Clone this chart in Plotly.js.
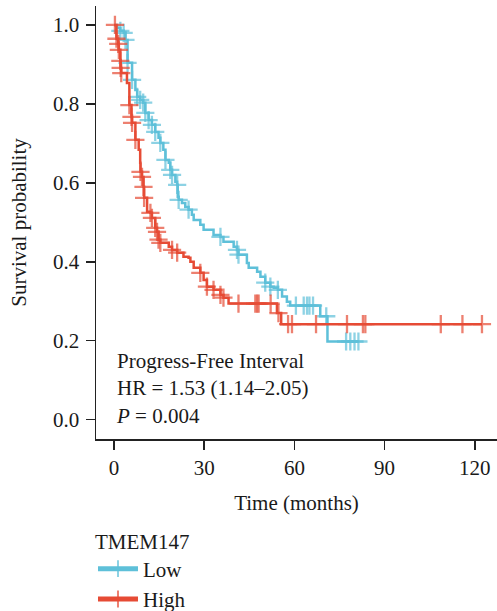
<!DOCTYPE html>
<html>
<head>
<meta charset="utf-8">
<script src="https://cdn.plot.ly/plotly-3.0.1.min.js"></script>
<style>
  html, body { margin: 0; padding: 0; background: #fff; }
  #chart { width: 497px; height: 611px; }
</style>
</head>
<body>
<div id="chart"></div>
<script>
// Group labels and legend
const legendTitle = "TMEM147";
const groupNames = ["Low", "High"];
const groupColors = ["#5EC0D9", "#E64B35"];

// Kaplan-Meier steps: time (months), survival probability, censored (1 = tick mark)
const lowTime = [0, 1.1, 2.1, 3.2, 3.8, 4.5, 6.0, 7.1, 7.7, 8.7, 9.7, 10.4, 11.5, 12.6, 13.7, 14.8, 15.4, 16.4, 17.1, 18.2,
  18.7, 19.3, 20.4, 21.0, 21.2, 21.5, 22.6, 23.7, 24.8, 25.9, 26.5, 28.7, 29.8, 33.1, 35.4, 36.4, 39.8, 40.9, 41.4, 44.2,
  44.8, 47.6, 48.7, 50.3, 52.0, 53.1, 54.5, 55.9, 57.5, 58.6, 60.5, 63.1, 64.2, 65.0, 66.2, 68.6, 70.6, 71.0, 77.2, 78.6,
  80.0, 81.3];
const lowSurv = [1.000, 0.992, 0.985, 0.980, 0.962, 0.904, 0.861, 0.835, 0.818, 0.810, 0.803, 0.777, 0.759, 0.747, 0.729, 0.714, 0.701, 0.684, 0.658, 0.651,
  0.633, 0.620, 0.603, 0.595, 0.565, 0.557, 0.549, 0.539, 0.532, 0.519, 0.506, 0.494, 0.481, 0.468, 0.463, 0.451, 0.438, 0.430, 0.418, 0.397,
  0.385, 0.375, 0.362, 0.347, 0.337, 0.334, 0.329, 0.312, 0.299, 0.289, 0.289, 0.289, 0.289, 0.289, 0.289, 0.262, 0.262, 0.198, 0.198, 0.198,
  0.198, 0.198];
const lowCensored = [0, 0, 1, 1, 1, 1, 1, 0, 1, 1, 1, 1, 1, 1, 1, 0, 1, 0, 1, 0,
  1, 1, 0, 1, 0, 1, 0, 0, 1, 0, 0, 0, 0, 0, 1, 0, 0, 1, 1, 0,
  0, 0, 0, 1, 1, 0, 1, 0, 0, 0, 1, 1, 1, 1, 1, 0, 1, 0, 1, 1,
  1, 1];

const highTime = [0, 0.3, 0.8, 1.4, 1.6, 2.1, 2.2, 2.4, 4.3, 5.1, 5.8, 6.0, 7.1, 8.2, 8.7, 8.8, 9.3, 9.8, 10.0, 11.0,
  12.1, 12.6, 13.7, 14.3, 14.8, 15.4, 18.2, 19.3, 21.0, 23.1, 24.8, 25.4, 26.5, 28.7, 29.8, 30.9, 33.1, 35.4, 36.4, 38.1,
  41.4, 47.0, 47.6, 48.1, 52.1, 54.2, 54.7, 55.6, 57.9, 59.2, 67.2, 77.5, 82.8, 83.6, 108.7, 115.9, 122.4];
const highSurv = [1.000, 1.000, 0.965, 0.952, 0.937, 0.909, 0.891, 0.878, 0.853, 0.797, 0.767, 0.752, 0.709, 0.684, 0.651, 0.628, 0.615, 0.590, 0.562, 0.527,
  0.524, 0.511, 0.486, 0.476, 0.456, 0.448, 0.438, 0.430, 0.423, 0.413, 0.410, 0.400, 0.385, 0.372, 0.354, 0.337, 0.329, 0.316, 0.309, 0.294,
  0.294, 0.294, 0.294, 0.294, 0.294, 0.270, 0.270, 0.242, 0.242, 0.242, 0.242, 0.242, 0.242, 0.242, 0.242, 0.242, 0.242];
const highCensored = [0, 1, 1, 1, 1, 1, 1, 1, 0, 1, 1, 1, 1, 0, 0, 1, 1, 1, 1, 0,
  1, 1, 1, 1, 1, 1, 0, 1, 1, 0, 0, 0, 0, 1, 0, 1, 1, 1, 1, 0,
  1, 1, 1, 1, 1, 0, 1, 0, 1, 1, 1, 1, 1, 1, 1, 1, 1];

// Axis ticks and texts
const xTicks = [0, 30, 60, 90, 120];
const yTicks = [0.0, 0.2, 0.4, 0.6, 0.8, 1.0];
const yTickText = ["0.0", "0.2", "0.4", "0.6", "0.8", "1.0"];
const xTitle = "Time (months)";
const yTitle = "Survival probability";
const statLines = ["Progress-Free Interval", "HR = 1.53 (1.14\u20132.05)", "<i>P</i> = 0.004"];

const FONT = "Liberation Serif, Times New Roman, serif";
const TXT = "#1a1a1a";

function kmTrace(name, color, t, s, c) {
  return {
    type: "scatter",
    mode: "lines+markers",
    name: name,
    x: t,
    y: s,
    line: { shape: "hv", color: color, width: 2.5 },
    marker: {
      symbol: "cross-thin",
      size: c.map(v => v ? 13 : 0),
      color: color,
      line: { color: color, width: 2.3 }
    },
    hoverinfo: "skip"
  };
}

const data = [
  kmTrace(groupNames[0], groupColors[0], lowTime, lowSurv, lowCensored),
  kmTrace(groupNames[1], groupColors[1], highTime, highSurv, highCensored)
];

const layout = {
  width: 497,
  height: 611,
  margin: { l: 96, r: 0, t: 6, b: 172, autoexpand: false },
  paper_bgcolor: "#ffffff",
  plot_bgcolor: "#ffffff",
  font: { family: FONT, size: 21, color: TXT },
  showlegend: true,
  legend: {
    title: { text: legendTitle, font: { family: FONT, size: 21, color: TXT } },
    font: { family: FONT, size: 21, color: TXT },
    orientation: "v",
    x: -0.0075, xanchor: "left",
    y: -0.19, yanchor: "top",
    itemsizing: "constant",
    itemwidth: 40,
    tracegroupgap: 0,
    bgcolor: "rgba(0,0,0,0)"
  },
  xaxis: {
    range: [-6.0, 127.4],
    tickvals: xTicks,
    ticktext: xTicks.map(String),
    ticks: "outside", ticklen: 9, tickwidth: 1.5, tickcolor: "#222",
    showline: true, linewidth: 1.5, linecolor: "#222",
    showgrid: false, zeroline: false,
    tickfont: { family: FONT, size: 21, color: TXT },
    title: { text: xTitle, font: { family: FONT, size: 21, color: TXT }, standoff: 16 }
  },
  yaxis: {
    range: [-0.049, 1.048],
    tickvals: yTicks,
    ticktext: yTickText,
    ticks: "outside", ticklen: 9, tickwidth: 1.5, tickcolor: "#222",
    showline: true, linewidth: 1.5, linecolor: "#222",
    showgrid: false, zeroline: false,
    ticklabelstandoff: 2,
    tickfont: { family: FONT, size: 21, color: TXT },
    title: { text: yTitle, font: { family: FONT, size: 21, color: TXT }, standoff: 20 }
  },
  annotations: [{
    xref: "x", yref: "y",
    x: 0, y: 0.080,
    xanchor: "left", yanchor: "middle",
    align: "left",
    showarrow: false,
    text: statLines.join("<br>"),
    font: { family: FONT, size: 21, color: TXT }
  }]
};

Plotly.newPlot("chart", data, layout, { staticPlot: true, displayModeBar: false });
</script>
</body>
</html>
